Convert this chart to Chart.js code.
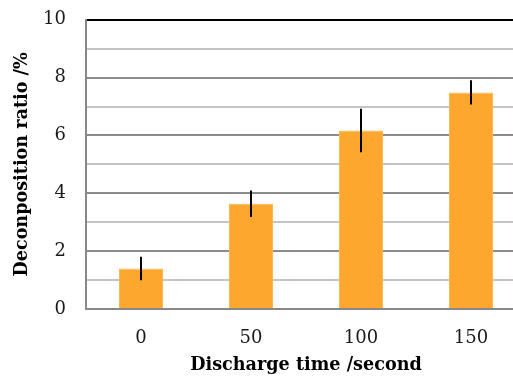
<!DOCTYPE html>
<html lang="en">
<head>
    <meta charset="UTF-8">
    <title>Decomposition ratio</title>
    <script src="https://cdn.jsdelivr.net/npm/chart.js"></script>
    <style>
        html, body {
            margin: 0;
            padding: 0;
            background: #fff;
            overflow: hidden;
        }
        .chart-box {
            position: absolute;
            left: 0;
            top: -11px;
            width: 540px;
            height: 387px;
        }
    </style>
</head>
<body>
    <div class="chart-box">
        <canvas id="ratioChart"></canvas>
    </div>

    <script>
        const categories = ['0', '50', '100', '150'];
        const ratios = [1.4, 3.64, 6.17, 7.49];
        const errors = [0.41, 0.46, 0.75, 0.42];

        // simple vertical error bars, drawn through the chart's scales
        const errorBars = {
            id: 'errorBars',
            afterDatasetsDraw(chart) {
                const ctx = chart.ctx;
                const y = chart.scales.y;
                const meta = chart.getDatasetMeta(0);
                ctx.save();
                ctx.strokeStyle = '#000';
                ctx.lineWidth = 2;
                meta.data.forEach((bar, i) => {
                    ctx.beginPath();
                    ctx.moveTo(bar.x, y.getPixelForValue(ratios[i] + errors[i]));
                    ctx.lineTo(bar.x, y.getPixelForValue(ratios[i] - errors[i]));
                    ctx.stroke();
                });
                ctx.restore();
            }
        };

        const font = 'DejaVu Serif';

        new Chart(document.getElementById('ratioChart'), {
            type: 'bar',
            data: {
                labels: categories,
                datasets: [{
                    data: ratios,
                    backgroundColor: '#FDA72E',
                    borderColor: '#FDB650',
                    borderWidth: 1,
                    barPercentage: 0.4,
                    categoryPercentage: 1
                }]
            },
            options: {
                responsive: true,
                maintainAspectRatio: false,
                animation: false,
                layout: { padding: { top: 0, right: 14, left: 0, bottom: 0 } },
                plugins: {
                    legend: { display: false },
                    tooltip: { enabled: false }
                },
                scales: {
                    x: {
                        grid: { display: false },
                        border: { color: '#888', width: 2 },
                        ticks: {
                            color: '#1a1a1a',
                            font: { family: font, size: 18 },
                            padding: 11
                        },
                        title: {
                            display: true,
                            text: 'Discharge time /second',
                            color: '#000',
                            font: { family: font, size: 17.6, weight: 'bold' },
                            padding: { top: 2, bottom: 0 }
                        },
                        afterFit(scale) { scale.height = 67; }
                    },
                    y: {
                        min: 0,
                        max: 10,
                        grid: {
                            drawTicks: false,
                            lineWidth: 2,
                            color: c => c.tick.value === 10 ? '#000' : (c.tick.value % 2 === 0 ? '#8c8c8c' : '#c4c4c4')
                        },
                        border: { color: '#888', width: 2 },
                        ticks: {
                            stepSize: 1,
                            color: '#1a1a1a',
                            font: { family: font, size: 18 },
                            padding: 20,
                            callback: v => v % 2 === 0 ? v : ''
                        },
                        title: {
                            display: true,
                            text: 'Deconposition ratio /%',
                            color: '#000',
                            font: { family: font, size: 17.6, weight: 'bold' },
                            padding: { top: 12, bottom: 0 }
                        },
                        afterFit(scale) { scale.width = 86; }
                    }
                }
            },
            plugins: [errorBars]
        });
    </script>
</body>
</html>
